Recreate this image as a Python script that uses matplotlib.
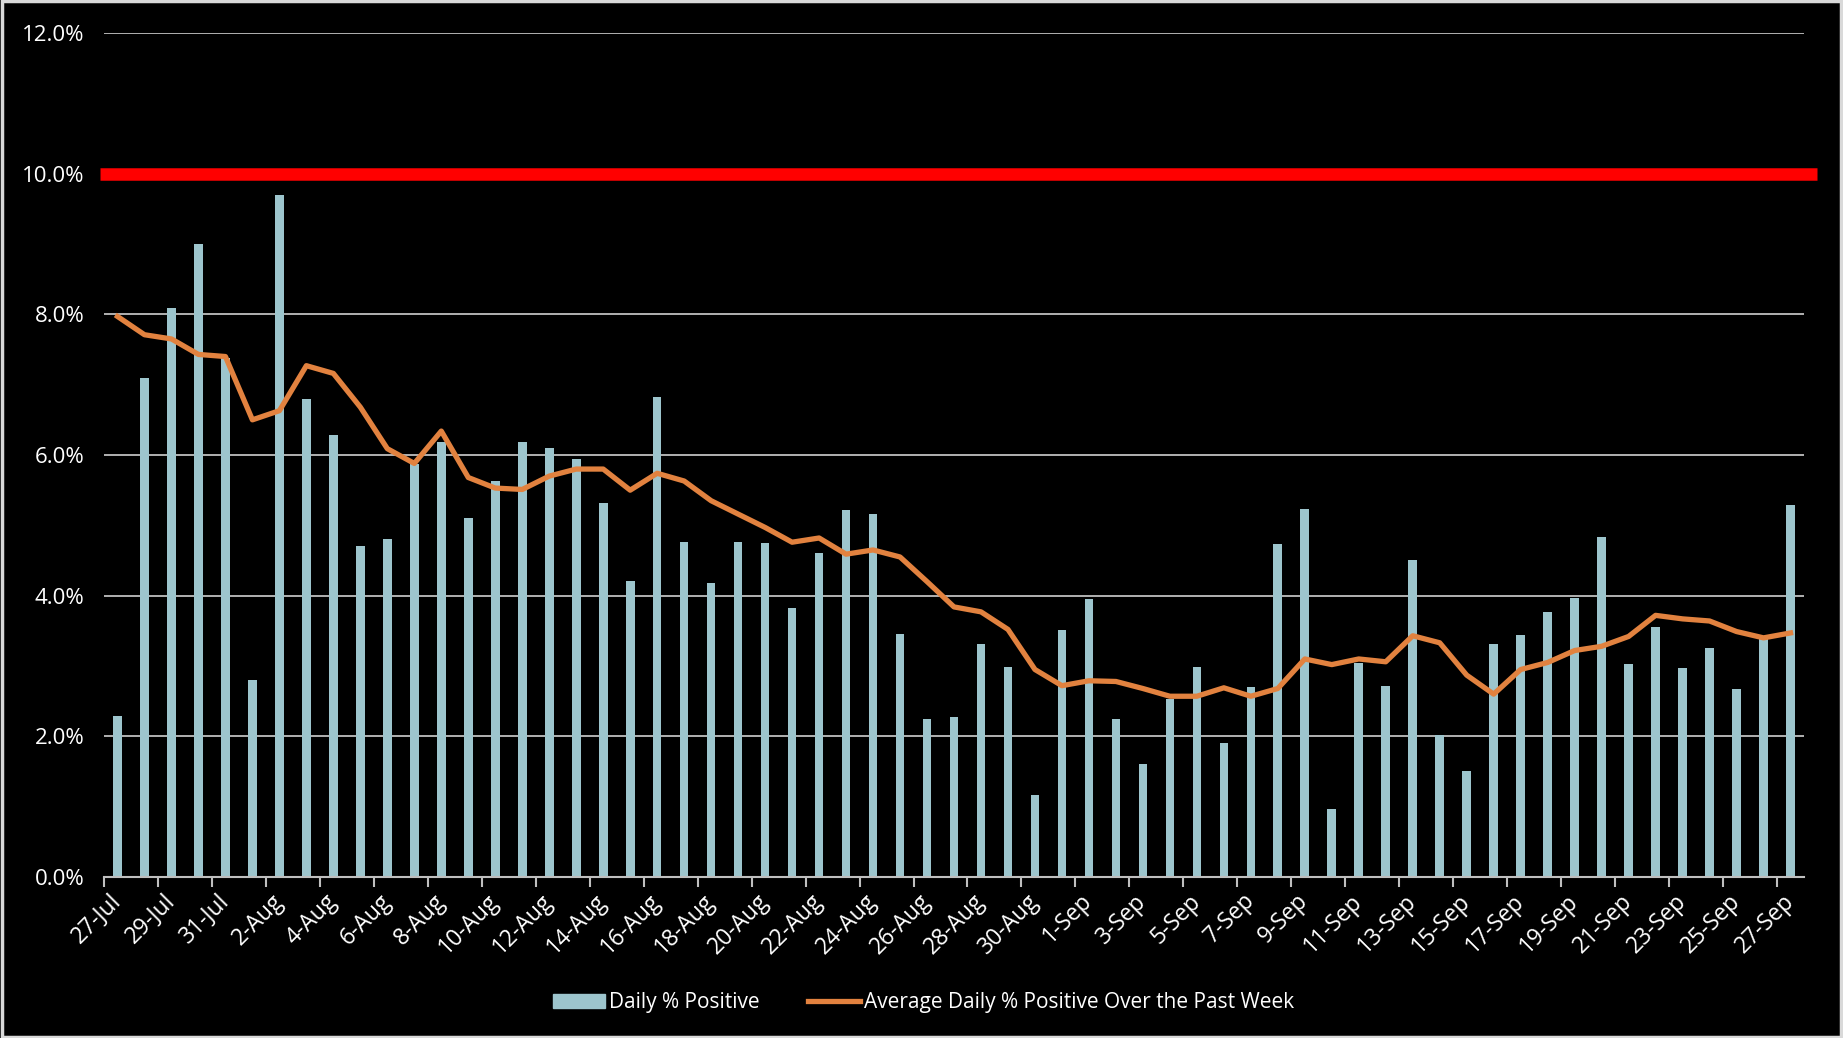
import matplotlib
matplotlib.use("Agg")
import matplotlib.pyplot as plt
from matplotlib.patches import Rectangle
from matplotlib.lines import Line2D
from matplotlib.ticker import FuncFormatter, FixedLocator
import numpy as np

plt.rcParams['font.family'] = ['Open Sans', 'DejaVu Sans']

dates = (["27-Jul", "28-Jul", "29-Jul", "30-Jul", "31-Jul"]
         + [f"{d}-Aug" for d in range(1, 32)]
         + [f"{d}-Sep" for d in range(1, 28)])

daily_pct = [2.29, 7.09, 8.09, 9.00, 7.38, 2.80, 9.70, 6.79, 6.29, 4.70,
             4.80, 5.87, 6.18, 5.10, 5.63, 6.18, 6.10, 5.95, 5.32, 4.21,
             6.83, 4.76, 4.18, 4.77, 4.75, 3.82, 4.61, 5.22, 5.16, 3.46,
             2.25, 2.27, 3.31, 2.98, 1.17, 3.51, 3.95, 2.24, 1.60, 2.53,
             2.98, 1.90, 2.70, 4.73, 5.23, 0.96, 3.04, 2.72, 4.51, 2.02,
             1.51, 3.31, 3.44, 3.77, 3.96, 4.84, 3.03, 3.56, 2.97, 3.25,
             2.67, 3.38, 5.29]

weekly_avg = [7.97, 7.71, 7.65, 7.43, 7.40, 6.50, 6.63, 7.27, 7.16, 6.68,
              6.09, 5.88, 6.34, 5.68, 5.53, 5.51, 5.70, 5.80, 5.80, 5.50,
              5.74, 5.63, 5.35, 5.16, 4.97, 4.76, 4.82, 4.59, 4.65, 4.55,
              4.20, 3.84, 3.77, 3.52, 2.95, 2.72, 2.79, 2.78, 2.68, 2.57,
              2.57, 2.69, 2.57, 2.68, 3.10, 3.02, 3.10, 3.06, 3.43, 3.33,
              2.87, 2.60, 2.95, 3.05, 3.22, 3.28, 3.42, 3.72, 3.67, 3.64,
              3.49, 3.40, 3.47]

threshold = 10.0
y_ticks = [0, 2, 4, 6, 8, 10, 12]

BAR = "#9DC5CD"
ORANGE = "#E2823F"
GRID = "#BFBFBF"
FS_Y = 16
FS_X = 16.5
FS_LEG = 15

W, H = 1843, 1038
fig = plt.figure(figsize=(W / 100, H / 100), dpi=100, facecolor="black")
ax = fig.add_axes([104 / W, 1 - 877 / H, (1804 - 104) / W, (877 - 33) / H])
ax.set_facecolor("black")

x = np.arange(len(dates))
ax.set_xlim(-0.5, len(dates) - 0.5)
ax.set_ylim(0, 12)

for yv in y_ticks[1:]:
    ax.axhline(yv, color=GRID, lw=1.3, zorder=1)

ax.bar(x, daily_pct, width=0.32, color=BAR, zorder=2,
       label="Daily % Positive")
ax.plot(x, weekly_avg, color=ORANGE, lw=3.8, zorder=3,
        solid_joinstyle="round",
        label="Average Daily % Positive Over the Past Week")
ax.plot([-0.65, len(dates) + 0.0], [threshold, threshold], color="#FF0000",
        lw=9, solid_capstyle="butt", clip_on=False, zorder=4)

for s in ["left", "right", "top"]:
    ax.spines[s].set_visible(False)
ax.spines["bottom"].set_color(GRID)
ax.spines["bottom"].set_linewidth(1.5)
ax.spines["bottom"].set_zorder(5)

ax.yaxis.set_major_locator(FixedLocator(y_ticks))
ax.yaxis.set_major_formatter(FuncFormatter(lambda v, p: f"{v:.1f}%"))
ax.tick_params(axis="y", length=0, pad=14, labelcolor="white", labelsize=FS_Y)

ax.set_xticks(np.arange(-0.5, len(dates), 2))
ax.set_xticklabels([])
ax.tick_params(axis="x", which="major", length=7, width=1.5, color=GRID,
               direction="out")
ax.set_xticks(x[::2], minor=True)
ax.set_xticklabels(dates[::2], minor=True, rotation=45, ha="right",
                   va="center", rotation_mode="anchor")
ax.tick_params(axis="x", which="minor", length=0, pad=15, labelcolor="white",
               labelsize=FS_X)

handles = [Rectangle((0, 0), 1, 1, color=BAR),
           Line2D([0], [0], color=ORANGE, lw=3.8)]
labels = ["Daily % Positive", "Average Daily % Positive Over the Past Week"]
leg = fig.legend(handles, labels, loc="center", bbox_to_anchor=(0.501, 0.034),
                 ncol=2, frameon=False, fontsize=FS_LEG, labelcolor="white",
                 handlelength=2.5, handletextpad=0.2, columnspacing=2.3)

fig.patches.append(Rectangle((0.001, 0.001), 0.998, 0.998,
                             transform=fig.transFigure, fill=False,
                             edgecolor="#D9D9D9", lw=2.5))

fig.savefig("out.png", dpi=100, facecolor="black")
